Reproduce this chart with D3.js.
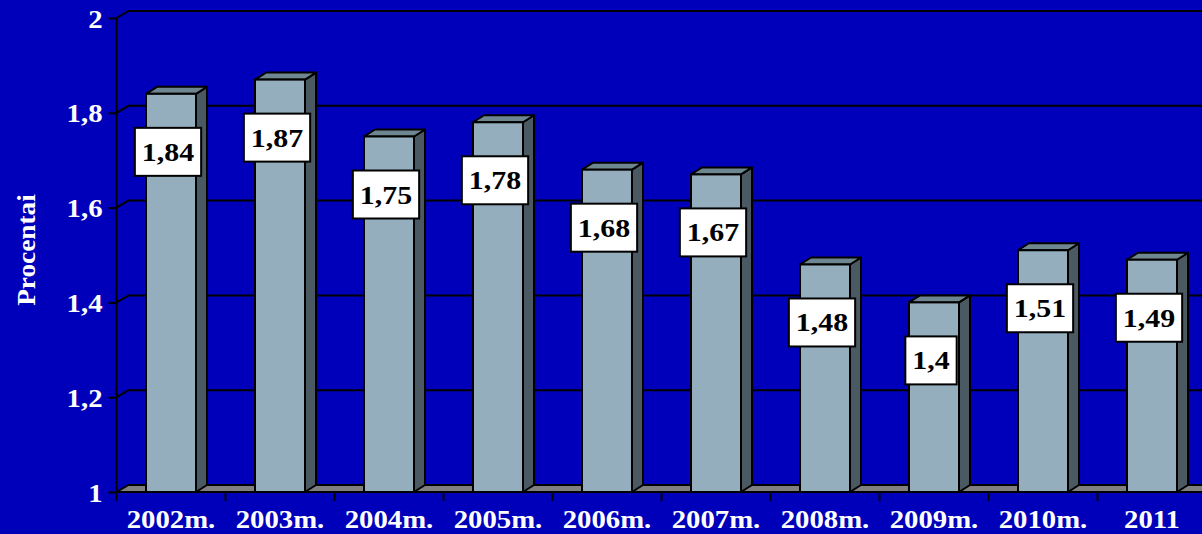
<!DOCTYPE html>
<html>
<head>
<meta charset="utf-8">
<script src="https://cdn.jsdelivr.net/npm/d3@7"></script>
<style>
  html, body { margin: 0; padding: 0; background: #0000bb; overflow: hidden; }
  text { font-family: "Liberation Serif", "Times New Roman", serif; font-weight: bold; }
</style>
</head>
<body>
<div id="chart"></div>
<script>
const categories = ["2002m.", "2003m.", "2004m.", "2005m.", "2006m.", "2007m.", "2008m.", "2009m.", "2010m.", "2011"];
const values = [1.84, 1.87, 1.75, 1.78, 1.68, 1.67, 1.48, 1.4, 1.51, 1.49];
const yTicks = [1, 1.2, 1.4, 1.6, 1.8, 2];
const yTitle = "Procentai";

const W = 1202, H = 534;
const fmt = d => String(d).replace(".", ",");
const stretch = 1.15;          // the original serif is drawn wider than Liberation
const depth = { dx: 12, dy: 7 };  // back wall offset
const barDepth = { dx: 11, dy: 7 };

const svg = d3.select("#chart").append("svg")
    .attr("width", W)
    .attr("height", H);

svg.append("rect")
    .attr("width", W).attr("height", H)
    .attr("fill", "#0000bb");

const x = d3.scaleBand()
    .domain(categories)
    .range([116.5, 1206.5])
    .padding(0);

const y = d3.scaleLinear()
    .domain([1, 2])
    .range([492, 18]);

const barW = 50;

// back wall gridlines + side diagonals
const grid = svg.append("g");
yTicks.forEach(t => {
  if (t === 1) return;
  grid.append("path")
      .attr("d", `M${x.range()[0]},${y(t)} L${x.range()[0] + depth.dx},${y(t) - depth.dy} L${W + 5},${y(t) - depth.dy}`)
      .attr("fill", "none")
      .attr("stroke", "#000")
      .attr("stroke-width", 2);
});

// floor
const x0 = x.range()[0];
svg.append("path")
    .attr("d", `M${x0},${y(1)} L${x0 + depth.dx},${y(1) - depth.dy} L${W + 5},${y(1) - depth.dy} L${W + 5},${y(1)} Z`)
    .attr("fill", "#808080")
    .attr("stroke", "#000")
    .attr("stroke-width", 2);

// Y axis
const yAxis = svg.append("g")
    .attr("transform", `translate(${x0},0)`)
    .call(d3.axisLeft(y).tickValues(yTicks).tickFormat(fmt).tickSize(8).tickPadding(6));
yAxis.select(".domain")
    .attr("d", `M0,${y(2)} V${y(1)}`)
    .attr("stroke", "#000")
    .attr("stroke-width", 2);
yAxis.selectAll(".tick line").attr("stroke", "#000").attr("stroke-width", 2);
yAxis.selectAll(".tick text")
    .attr("x", null)
    .attr("dy", null)
    .attr("transform", "translate(-14,9) scale(" + stretch + ",1)")
    .attr("fill", "#fff")
    .attr("font-size", 25)
    .attr("font-family", null);

// X axis: boundary ticks and centered labels
const bounds = categories.map(c => x(c)).concat([x.range()[1]]);
svg.append("g").selectAll("line")
  .data(bounds)
  .join("line")
    .attr("x1", d => d).attr("x2", d => d)
    .attr("y1", y(1)).attr("y2", y(1) + 9)
    .attr("stroke", "#000")
    .attr("stroke-width", 2);
svg.append("line")
    .attr("x1", x0).attr("x2", W + 5)
    .attr("y1", y(1)).attr("y2", y(1))
    .attr("stroke", "#000").attr("stroke-width", 2);

svg.append("g").selectAll("text")
  .data(categories)
  .join("text")
    .attr("transform", d => `translate(${x(d) + x.bandwidth() / 2},528) scale(${stretch},1)`)
    .attr("text-anchor", "middle")
    .attr("font-size", 25)
    .attr("fill", "#fff")
    .text(d => d);

// Y title
svg.append("text")
    .attr("transform", `translate(35,250) rotate(-90) scale(1.05,1)`)
    .attr("text-anchor", "middle")
    .attr("font-size", 26)
    .attr("fill", "#fff")
    .text(yTitle);

// bars
const data = categories.map((c, i) => ({ cat: c, value: values[i] }));
const bars = svg.append("g").selectAll("g")
  .data(data)
  .join("g");

bars.append("path") // side face
    .attr("d", d => {
      const l = x(d.cat) + x.bandwidth() / 2 - barW / 2, r = l + barW, t = y(d.value);
      return `M${r},${t} L${r + barDepth.dx},${t - barDepth.dy} L${r + barDepth.dx},${y(1) - barDepth.dy} L${r},${y(1)} Z`;
    })
    .attr("fill", "#4b5a62")
    .attr("stroke", "#000")
    .attr("stroke-width", 2)
    .attr("stroke-linejoin", "round");

bars.append("path") // top face
    .attr("d", d => {
      const l = x(d.cat) + x.bandwidth() / 2 - barW / 2, r = l + barW, t = y(d.value);
      return `M${l},${t} L${l + barDepth.dx},${t - barDepth.dy} L${r + barDepth.dx},${t - barDepth.dy} L${r},${t} Z`;
    })
    .attr("fill", "#6e8690")
    .attr("stroke", "#000")
    .attr("stroke-width", 2)
    .attr("stroke-linejoin", "round");

bars.append("rect") // front face
    .attr("x", d => x(d.cat) + x.bandwidth() / 2 - barW / 2)
    .attr("y", d => y(d.value))
    .attr("width", barW)
    .attr("height", d => y(1) - y(d.value))
    .attr("fill", "#94aebd")
    .attr("stroke", "#000")
    .attr("stroke-width", 2);

// value labels
const labels = svg.append("g").selectAll("g")
  .data(data)
  .join("g")
    .attr("transform", d => `translate(${x(d.cat) + x.bandwidth() / 2 - 3},${y(d.value) + 58})`);

const labelRect = labels.append("rect")
    .attr("fill", "#fff")
    .attr("stroke", "#000")
    .attr("stroke-width", 2);

const labelText = labels.append("text")
    .attr("transform", `translate(0,9) scale(${stretch},1)`)
    .attr("text-anchor", "middle")
    .attr("font-size", 26)
    .attr("fill", "#000")
    .text(d => fmt(d.value));

labelText.each(function() {
  const w = this.getComputedTextLength() * stretch + 14;
  d3.select(this.parentNode).select("rect")
      .attr("x", -w / 2).attr("y", -24)
      .attr("width", w).attr("height", 48);
});
</script>
</body>
</html>
